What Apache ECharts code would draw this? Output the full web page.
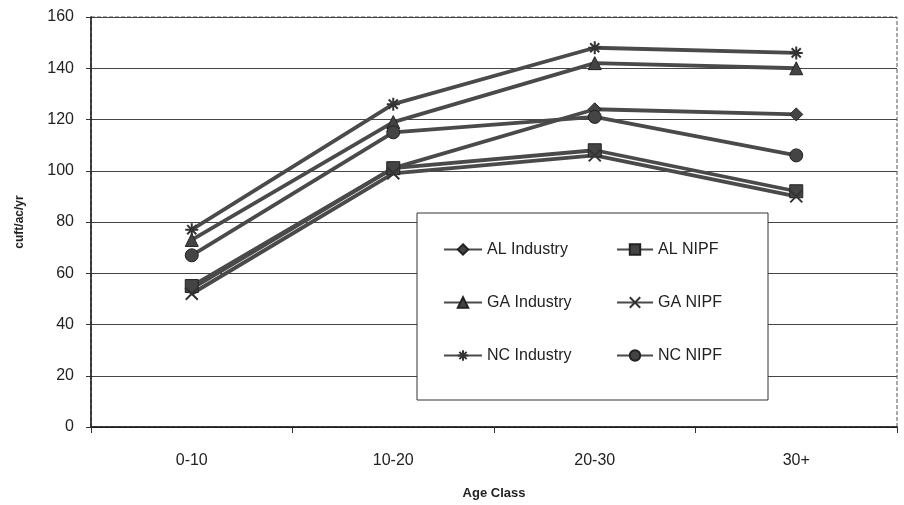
<!DOCTYPE html>
<html>
<head>
<meta charset="utf-8">
<script src="https://cdn.jsdelivr.net/npm/echarts@6/dist/echarts.min.js"></script>
<style>html,body{margin:0;padding:0;background:#fff;}#c{width:904px;height:505px;}</style>
</head>
<body>
<div id="c"></div>
<script>
const categories = ['0-10', '10-20', '20-30', '30+'];
const alIndustry = [54, 101, 124, 122];
const alNipf = [55, 101, 108, 92];
const gaIndustry = [73, 119, 142, 140];
const gaNipf = [52, 99, 106, 90];
const ncIndustry = [77, 126, 148, 146];
const ncNipf = [67, 115, 121, 106];
const yTicks = [0, 20, 40, 60, 80, 100, 120, 140, 160];

const X_PATH = 'path://M0,0 L10,10 M10,0 L0,10';
const AST_PATH = 'path://M5,0 L5,10 M0,5 L10,5 M1.5,1.5 L8.5,8.5 M8.5,1.5 L1.5,8.5';

function mk(name, data, symbol, size, stroke) {
  return {
    name: name, type: 'line', data: data,
    symbol: symbol, symbolSize: size, showSymbol: true,
    lineStyle: { color: '#4a4a4a', width: 3.8 },
    itemStyle: stroke
      ? { color: '#333', borderColor: '#333', borderWidth: 2 }
      : { color: '#444', borderColor: '#222', borderWidth: 1 },
    emphasis: { disabled: true },
    z: 2
  };
}

const chart = echarts.init(document.getElementById('c'), null, { renderer: 'canvas' });
const fontFam = 'Liberation Sans, Arial, sans-serif';
chart.setOption({
  animation: false,
  backgroundColor: '#fff',
  grid: { left: 91, right: 7, top: 17, bottom: 75, show: true, borderColor: '#555', borderWidth: 1, borderType: 'dashed' },
  xAxis: {
    type: 'category', data: categories, boundaryGap: true,
    name: 'Age Class', nameLocation: 'middle', nameGap: 60,
    nameTextStyle: { fontFamily: fontFam, fontSize: 13, fontWeight: 'bold', color: '#222' },
    axisLine: { lineStyle: { color: '#111', width: 1.5 } },
    axisTick: { show: true, alignWithLabel: false, length: 6, lineStyle: { color: '#333' } },
    axisLabel: { fontFamily: fontFam, fontSize: 16, color: '#222', margin: 26 },
    splitLine: { show: false }
  },
  yAxis: {
    type: 'value', min: 0, max: 160, interval: 20,
    name: 'cuft/ac/yr', nameLocation: 'middle', nameGap: 65, nameRotate: 90,
    nameTextStyle: { fontFamily: fontFam, fontSize: 12, fontWeight: 'bold', color: '#222' },
    axisLine: { show: true, lineStyle: { color: '#111', width: 1.5 } },
    axisTick: { show: true, length: 5, inside: false, lineStyle: { color: '#333' } },
    axisLabel: { fontFamily: fontFam, fontSize: 16, color: '#222', margin: 17,
      formatter: function (v) { return yTicks.indexOf(v) >= 0 ? String(v) : ''; } },
    splitLine: { show: true, lineStyle: { color: '#444', width: 1 } }
  },
  graphic: [{
    type: 'rect', shape: { x: 417, y: 213, width: 351, height: 187 },
    style: { fill: '#fff', stroke: '#333', lineWidth: 1 }, z: 3, silent: true
  }],
  legend: [
    {
      data: ['AL Industry', 'GA Industry', 'NC Industry'],
      orient: 'vertical', left: 438, top: 236, itemGap: 36,
      itemWidth: 38, itemHeight: 13, z: 5, itemGap2: 0,
      textStyle: { fontFamily: fontFam, fontSize: 16, color: '#222', lineHeight: 17 },
      selectedMode: false
    },
    {
      data: ['AL NIPF', 'GA NIPF', 'NC NIPF'],
      orient: 'vertical', left: 611, top: 236, itemGap: 36,
      itemWidth: 36, itemHeight: 13, z: 5,
      textStyle: { fontFamily: fontFam, fontSize: 16, color: '#222', lineHeight: 17 },
      selectedMode: false
    }
  ],
  series: [
    mk('AL Industry', alIndustry, 'diamond', 13, false),
    mk('AL NIPF', alNipf, 'rect', 13, false),
    mk('GA Industry', gaIndustry, 'triangle', 13, false),
    mk('GA NIPF', gaNipf, X_PATH, 12, true),
    mk('NC Industry', ncIndustry, AST_PATH, 13, true),
    mk('NC NIPF', ncNipf, 'circle', 13, false)
  ]
});
</script>
</body>
</html>
